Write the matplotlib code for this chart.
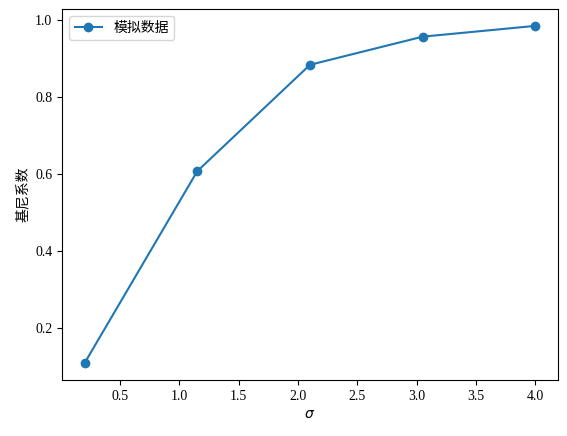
import numpy as np
import matplotlib
matplotlib.use('Agg')
import matplotlib.pyplot as plt

plt.rcParams['font.family'] = ['Liberation Serif', 'Noto Sans CJK SC', 'DejaVu Sans']
plt.rcParams['axes.unicode_minus'] = False

sigma = [0.2, 1.15, 2.1, 3.05, 4.0]
gini = [0.11, 0.608, 0.884, 0.957, 0.985]

fig = plt.figure(figsize=(5.67, 4.36), dpi=100)
ax = fig.add_axes([62 / 567, (436 - 380) / 436, 496 / 567, 371 / 436])
ax.plot(sigma, gini, marker='o', label='模拟数据')
ax.set_xlabel(r'$\sigma$')
ax.set_ylabel('基尼系数')
ax.legend(loc='upper left')

fig.savefig('out.png', dpi=100)
